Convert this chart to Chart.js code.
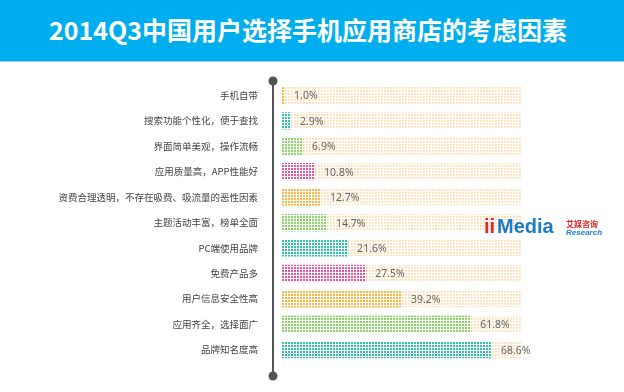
<!DOCTYPE html>
<html><head><meta charset="utf-8">
<script src="https://cdn.jsdelivr.net/npm/chart.js@4/dist/chart.umd.min.js"></script>
<style>
html,body{margin:0;padding:0;background:#fff;}
#wrap{position:relative;width:624px;height:392px;overflow:hidden;}
#band{position:absolute;left:0;top:0;width:624px;height:61px;background:#00AEEF;border-bottom:1px solid #8fd8f5;}
#title{position:absolute;left:0;top:11px;width:616px;height:40px;line-height:40px;text-align:center;color:#fff;font:bold 25px "Noto Sans CJK SC","Noto Sans",sans-serif;}
canvas{position:absolute;left:0;top:0;}
</style></head>
<body><div id="wrap"><div id="band"></div><div id="title">2014Q3中国用户选择手机应用商店的考虑因素</div><canvas id="c" width="624" height="392"></canvas></div>
<script>
const categories = ['手机自带','搜索功能个性化，便于查找','界面简单美观，操作流畅','应用质量高，APP性能好','资费合理透明，不存在吸费、吸流量的恶性因素','主题活动丰富，榜单全面','PC端使用品牌','免费产品多','用户信息安全性高','应用齐全，选择面广','品牌知名度高'];
const values = [1.0, 2.9, 6.9, 10.8, 12.7, 14.7, 21.6, 27.5, 39.2, 61.8, 68.6];
const barColors = ['#FDB642','#2EC3AE','#8DD46A','#EE559F','#FDB642','#8DD46A','#2EC3AE','#EE559F','#FDB642','#8DD46A','#2EC3AE'];
const scaleMax = 78.4;

function dotPattern(color, bg, light){
  const t = document.createElement('canvas'); t.width = 3; t.height = 3;
  const c = t.getContext('2d');
  if (bg){ c.fillStyle = bg; c.fillRect(0,0,3,3); }
  c.fillStyle = color;
  if (light){ c.fillRect(0,0,2,1); c.fillRect(0,1,1,1); c.globalAlpha = 0.5; c.fillRect(1,1,1,1); }
  else { c.fillRect(0,0,2,2); }
  return document.getElementById('c').getContext('2d').createPattern(t,'repeat');
}
const patterns = barColors.map(col => dotPattern(col, '#ffffff', false));
const trackPattern = dotPattern('#FBE2B8', null, true);

const decor = {
  id: 'decor',
  beforeDatasetsDraw(chart){
    const ctx = chart.ctx, a = chart.chartArea;
    const meta = chart.getDatasetMeta(0);
    ctx.save();
    ctx.fillStyle = trackPattern;
    meta.data.forEach(b => { ctx.fillRect(a.left, Math.round(b.y - b.height/2), a.right - a.left, Math.round(b.height)); });
    ctx.strokeStyle = '#555'; ctx.lineWidth = 2;
    ctx.beginPath(); ctx.moveTo(273, 81); ctx.lineTo(273, 376); ctx.stroke();
    ctx.fillStyle = '#555';
    [81, 376].forEach(y => { ctx.beginPath(); ctx.arc(273, y, 4.5, 0, Math.PI*2); ctx.fill(); });
    ctx.restore();
  },
  afterDatasetsDraw(chart){
    const ctx = chart.ctx;
    const meta = chart.getDatasetMeta(0);
    ctx.save();
    ctx.font = '10.5px "Noto Sans","Noto Sans CJK SC",sans-serif';
    ctx.fillStyle = '#666'; ctx.textBaseline = 'middle'; ctx.textAlign = 'left';
    meta.data.forEach((b, i) => { ctx.fillText(values[i].toFixed(1) + '%', b.x + 9, b.y + 1); });
    ctx.textBaseline = 'alphabetic';
    ctx.font = 'bold 20px "Liberation Sans",Arial,sans-serif';
    ctx.fillStyle = '#E8242A'; ctx.fillText('ii', 484, 233);
    ctx.fillStyle = '#1C7CC8'; ctx.fillText('Media', 497, 233);
    ctx.font = 'bold 8px "Noto Sans CJK SC",sans-serif';
    ctx.fillStyle = '#E8242A'; ctx.fillText('艾媒咨询', 566, 227);
    ctx.font = 'italic bold 8px "Liberation Sans",Arial,sans-serif';
    ctx.fillStyle = '#1C7CC8'; ctx.fillText('Research', 566, 235);
    ctx.restore();
  }
};

new Chart(document.getElementById('c'), {
  type: 'bar',
  data: { labels: categories, datasets: [{ data: values, backgroundColor: patterns, borderWidth: 0, barPercentage: 0.68, categoryPercentage: 1 }] },
  options: {
    indexAxis: 'y', responsive: false, animation: false,
    layout: { padding: { top: 82.75, bottom: 17.75, left: 0, right: 102 } },
    plugins: { legend: { display: false }, tooltip: { enabled: false }, title: { display: false } },
    scales: {
      x: { display: false, min: 0, max: scaleMax },
      y: {
        grid: { display: false, drawTicks: false }, border: { display: false },
        ticks: { color: '#444', padding: 24, font: { size: 9.5, family: '"Noto Sans CJK SC","Noto Sans",sans-serif' } },
        afterFit(s){ s.width = 282; }
      }
    }
  },
  plugins: [decor]
});
</script></body></html>
